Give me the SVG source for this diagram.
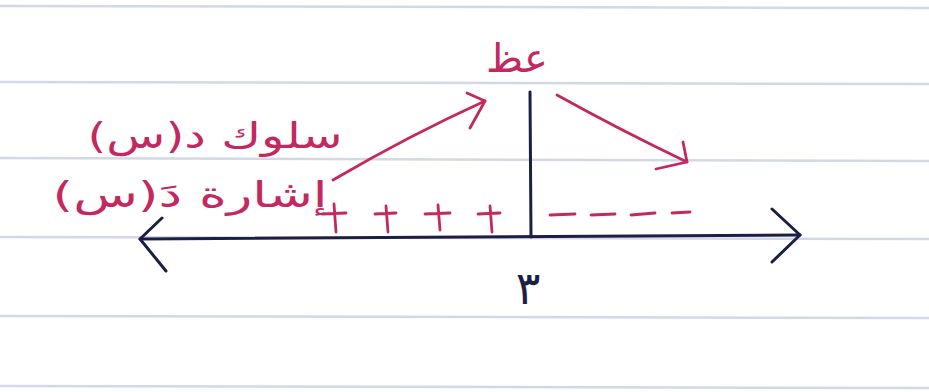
<svg xmlns="http://www.w3.org/2000/svg" width="929" height="392" viewBox="0 0 929 392">
<style>
.rule{stroke:#d3d8e6;stroke-width:2.5;fill:none}
.ink{stroke:#1c1f45;stroke-width:3;fill:none;stroke-linecap:round;stroke-linejoin:round}
.pink{stroke:#c3285f;stroke-width:2.8;fill:none;stroke-linecap:round;stroke-linejoin:round}
.ptxt{fill:#c3285f;font-family:"DejaVu Sans",sans-serif}
.btxt{fill:#1c1f45;font-family:"DejaVu Sans",sans-serif}
</style>
<rect width="929" height="392" fill="#ffffff"/>
<g id="paper">
<line class="rule" x1="0" y1="6" x2="929" y2="8"/>
<line class="rule" x1="0" y1="82" x2="929" y2="84"/>
<line class="rule" x1="0" y1="158" x2="929" y2="161"/>
<line class="rule" x1="0" y1="237" x2="929" y2="239"/>
<line class="rule" x1="0" y1="316" x2="929" y2="318"/>
<line class="rule" x1="0" y1="386" x2="929" y2="388"/>
</g>
<g id="axis">
<path class="ink" d="M140 239 Q470 236 800 235"/>
<path class="ink" d="M162 218 L140 239 L166 271"/>
<path class="ink" d="M772 209 L800 235 L772 262"/>
<line class="ink" x1="530" y1="92" x2="531" y2="237"/>
</g>
<g id="signs">
<path class="pink" d="M322 214 L346 213 M334 204 L336 232"/>
<path class="pink" d="M375 214 L396 213 M386 206 L388 232"/>
<path class="pink" d="M425 214 L450 213 M438 205 L440 230"/>
<path class="pink" d="M478 214 L500 213 M490 206 L492 232"/>
<path class="pink" d="M550 215 L575 214"/>
<path class="pink" d="M591 215 L615 214"/>
<path class="pink" d="M631 215 L655 213"/>
<path class="pink" d="M672 213 L690 212"/>
</g>
<g id="connectors">
<path class="pink" d="M333 180 Q410 135 485 101"/>
<path class="pink" d="M467 93 L485 101 L470 128"/>
<path class="pink" d="M557 95 Q620 130 687 162"/>
<path class="pink" d="M683 142 L687 162 L656 169"/>
</g>
<g id="label-behavior">
<text class="ptxt" x="215" y="148" font-size="36" text-anchor="middle" direction="rtl" textLength="255" lengthAdjust="spacingAndGlyphs">سلوك د(س)</text>
</g>
<g id="label-sign">
<text class="ptxt" x="190" y="207" font-size="36" text-anchor="middle" direction="rtl" textLength="275" lengthAdjust="spacingAndGlyphs">إشارة دَ(س)</text>
</g>
<g id="label-top">
<text class="ptxt" x="517" y="72" font-size="40" text-anchor="middle" direction="rtl">عظ</text>
</g>
<g id="label-three">
<text class="btxt" x="528" y="304" font-size="46" text-anchor="middle">٣</text>
</g>
</svg>
